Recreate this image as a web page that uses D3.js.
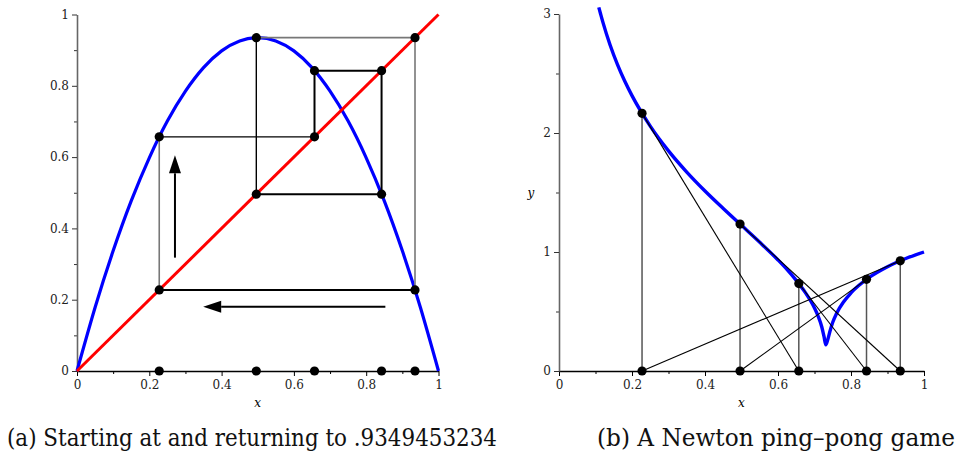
<!DOCTYPE html>
<html>
<head>
<meta charset="utf-8">
<script src="https://cdn.jsdelivr.net/npm/d3@7"></script>
<style>
  html, body { margin: 0; padding: 0; background: #fff; }
  svg { display: block; }
  svg text { font-family: "DejaVu Serif"; }
</style>
</head>
<body>
<svg id="chart" width="960" height="453"></svg>
<script>
// ---- Panel (a): logistic map and its 5-cycle ----
const mapX = [0, 0.05, 0.1, 0.15, 0.2, 0.25, 0.3, 0.35, 0.4, 0.45, 0.5,
              0.55, 0.6, 0.65, 0.7, 0.75, 0.8, 0.85, 0.9, 0.95, 1];
const mapY = [0, 0.178, 0.337, 0.477, 0.598, 0.701, 0.785, 0.851, 0.898, 0.926, 0.935,
              0.926, 0.898, 0.851, 0.785, 0.701, 0.598, 0.477, 0.337, 0.178, 0];
const diagonal = [0, 1];
// orbit visited in order, returning to the first value
const cycle = [0.2275, 0.657, 0.8425, 0.496, 0.935];
// arrows: [x1, y1, x2, y2] in data units, tip at the second point
const arrows = [[0.271, 0.318, 0.271, 0.605], [0.853, 0.18, 0.349, 0.18]];

// ---- Panel (b): Newton iteration on g ----
const gX = [0.109, 0.114, 0.12, 0.14, 0.16, 0.18, 0.2, 0.25, 0.3, 0.35, 0.4, 0.45, 0.5, 0.55, 0.6,
            0.625, 0.65, 0.675, 0.69, 0.7, 0.71, 0.72, 0.726, 0.731, 0.736, 0.742, 0.75,
            0.76, 0.78, 0.8, 0.85, 0.9, 0.95, 1];
const gY = [3.056, 3.0, 2.934, 2.74, 2.577, 2.437, 2.314, 2.058, 1.85, 1.672, 1.513, 1.366, 1.224, 1.082, 0.933,
            0.852, 0.762, 0.659, 0.586, 0.529, 0.46, 0.37, 0.29, 0.22, 0.26, 0.33, 0.41,
            0.481, 0.582, 0.656, 0.786, 0.876, 0.945, 1.0];
const newtonX = [0.2275, 0.657, 0.8425, 0.496, 0.935];
const newtonG = [2.165, 0.735, 0.77, 1.235, 0.926];

const xTicks = [0, 0.2, 0.4, 0.6, 0.8, 1];
const xMinor = [0.1, 0.3, 0.5, 0.7, 0.9];
const yTicksA = [0, 0.2, 0.4, 0.6, 0.8, 1];
const yMinorA = [0.1, 0.3, 0.5, 0.7, 0.9];
const yTicksB = [0, 1, 2, 3];
const yMinorB = [0.5, 1.5, 2.5];

const captions = ["(a) Starting at and returning to .9349453234", "(b) A Newton ping\u2013pong game"];

const svg = d3.select("#chart");

function drawAxes(g, x, y, yTicks, yMinor, xLabel, yLabel) {
  const fmt = d => String(+d.toFixed(1));
  const y0 = y.range()[0];
  const x0 = x.range()[0];
  // minor ticks
  g.append("g").attr("transform", `translate(0,${y0})`)
    .call(d3.axisBottom(x).tickValues(xMinor).tickSize(3).tickSizeOuter(0).tickFormat(""))
    .call(s => s.select(".domain").remove())
    .call(s => s.selectAll("line").attr("stroke", "#000"));
  g.append("g").attr("transform", `translate(${x0},0)`)
    .call(d3.axisLeft(y).tickValues(yMinor).tickSize(3).tickSizeOuter(0).tickFormat(""))
    .call(s => s.select(".domain").remove())
    .call(s => s.selectAll("line").attr("stroke", "#333"));
  // major ticks with labels
  g.append("g").attr("transform", `translate(0,${y0})`)
    .call(d3.axisBottom(x).tickValues(xTicks).tickSize(5).tickSizeOuter(0).tickPadding(4).tickFormat(fmt))
    .call(s => s.select(".domain").attr("stroke", "#000").attr("stroke-width", 1.4))
    .call(s => s.selectAll("line").attr("stroke", "#000"))
    .attr("font-family", null).attr("font-size", 12);
  g.append("g").attr("transform", `translate(${x0},0)`)
    .call(d3.axisLeft(y).tickValues(yTicks).tickSize(5).tickSizeOuter(0).tickPadding(3).tickFormat(fmt))
    .call(s => s.select(".domain").attr("stroke", "#666").attr("stroke-width", 1.6))
    .call(s => s.selectAll("line").attr("stroke", "#333"))
    .attr("font-family", null).attr("font-size", 12);
  g.selectAll(".tick text").attr("fill", "#222");
  if (xLabel) {
    g.append("text").attr("x", (x.range()[0] + x.range()[1]) / 2).attr("y", y0 + 36)
      .attr("text-anchor", "middle")
      .attr("font-style", "italic").attr("font-size", 12).text(xLabel);
  }
  if (yLabel) {
    g.append("text").attr("x", x0 - 28).attr("y", (y.range()[0] + y.range()[1]) / 2 + 4)
      .attr("text-anchor", "middle")
      .attr("font-style", "italic").attr("font-size", 12).text(yLabel);
  }
}

// ================= Panel (a) =================
{
  const x = d3.scaleLinear().domain([0, 1]).range([77, 438.5]);
  const y = d3.scaleLinear().domain([0, 1]).range([371, 14.5]);
  const g = svg.append("g");
  drawAxes(g, x, y, yTicksA, yMinorA, "x", null);

  const line = d3.line().x(d => x(d[0])).y(d => y(d[1]));

  // parabola
  g.append("path").datum(d3.zip(mapX, mapY))
    .attr("d", line.curve(d3.curveNatural)).attr("fill", "none")
    .attr("stroke", "#0000ff").attr("stroke-width", 3.2);
  // diagonal y = x
  g.append("path").datum(diagonal.map(v => [v, v]))
    .attr("d", line.curve(d3.curveLinear)).attr("fill", "none")
    .attr("stroke", "#ff0000").attr("stroke-width", 3);

  // cobweb segments: vertical to the curve, then horizontal to the diagonal
  const segs = [];
  cycle.forEach((c, i) => {
    const n = cycle[(i + 1) % cycle.length];
    segs.push([[c, c], [c, n]]);
    segs.push([[c, n], [n, n]]);
  });
  const segStyle = [
    ["#777", 1.6], ["#000", 1.3],
    ["#000", 2], ["#000", 2],
    ["#000", 2], ["#000", 2],
    ["#000", 1.4], ["#777", 1.6],
    ["#777", 1.6], ["#000", 2]
  ];
  g.selectAll(".seg").data(segs).join("line").attr("class", "seg")
    .attr("x1", d => x(d[0][0])).attr("y1", d => y(d[0][1]))
    .attr("x2", d => x(d[1][0])).attr("y2", d => y(d[1][1]))
    .attr("stroke", (d, i) => segStyle[i][0]).attr("stroke-width", (d, i) => segStyle[i][1]);

  // direction arrows
  arrows.forEach(a => {
    const x1 = x(a[0]), y1 = y(a[1]), x2 = x(a[2]), y2 = y(a[3]);
    const ang = Math.atan2(y2 - y1, x2 - x1);
    const L = 18, W = 6;
    const bx = x2 - L * Math.cos(ang), by = y2 - L * Math.sin(ang);
    g.append("line").attr("x1", x1).attr("y1", y1).attr("x2", bx).attr("y2", by)
      .attr("stroke", "#000").attr("stroke-width", 2);
    const px = -Math.sin(ang) * W, py = Math.cos(ang) * W;
    g.append("path").attr("d", `M${x2},${y2}L${bx + px},${by + py}L${bx - px},${by - py}Z`)
      .attr("fill", "#000");
  });

  // dots at cobweb corners and on the axis
  const pts = [];
  cycle.forEach((c, i) => {
    const n = cycle[(i + 1) % cycle.length];
    pts.push([c, c], [c, n]);
  });
  cycle.forEach(c => pts.push([c, 0]));
  g.selectAll(".dot").data(pts).join("circle").attr("class", "dot")
    .attr("cx", d => x(d[0])).attr("cy", d => y(d[1])).attr("r", 4.6).attr("fill", "#000");
}

// ================= Panel (b) =================
{
  const x = d3.scaleLinear().domain([0, 1]).range([559, 924]);
  const y = d3.scaleLinear().domain([0, 3]).range([371, 14]);
  const g = svg.append("g");
  drawAxes(g, x, y, yTicksB, yMinorB, "x", "y");

  const line = d3.line().x(d => x(d[0])).y(d => y(d[1])).curve(d3.curveMonotoneX);
  g.append("path").datum(d3.zip(gX, gY))
    .attr("d", line).attr("fill", "none")
    .attr("stroke", "#0000ff").attr("stroke-width", 3.4).attr("stroke-linejoin", "round");

  // vertical drops from the curve to the axis
  g.selectAll(".drop").data(newtonX).join("line").attr("class", "drop")
    .attr("x1", d => x(d)).attr("x2", d => x(d))
    .attr("y1", y(0)).attr("y2", (d, i) => y(newtonG[i]))
    .attr("stroke", "#555").attr("stroke-width", 1.5);

  // tangent lines: from (x_n, g(x_n)) to (x_{n+1}, 0)
  g.selectAll(".tan").data(newtonX).join("line").attr("class", "tan")
    .attr("x1", d => x(d)).attr("y1", (d, i) => y(newtonG[i]))
    .attr("x2", (d, i) => x(newtonX[(i + 1) % newtonX.length])).attr("y2", y(0))
    .attr("stroke", "#000").attr("stroke-width", 1.1);

  const pts = newtonX.map((v, i) => [v, newtonG[i]]).concat(newtonX.map(v => [v, 0]));
  g.selectAll(".dot").data(pts).join("circle").attr("class", "dot")
    .attr("cx", d => x(d[0])).attr("cy", d => y(d[1])).attr("r", 4.6).attr("fill", "#000");
}

// ---- captions ----
const capPos = [[7, 490], [597, 358]];
svg.selectAll(".cap").data(captions).join("text").attr("class", "cap")
  .attr("x", (d, i) => capPos[i][0]).attr("y", 446)
  .attr("font-size", 23.5)
  .attr("textLength", (d, i) => capPos[i][1]).attr("lengthAdjust", "spacingAndGlyphs")
  .attr("fill", "#111").text(d => d);
</script>
</body>
</html>
